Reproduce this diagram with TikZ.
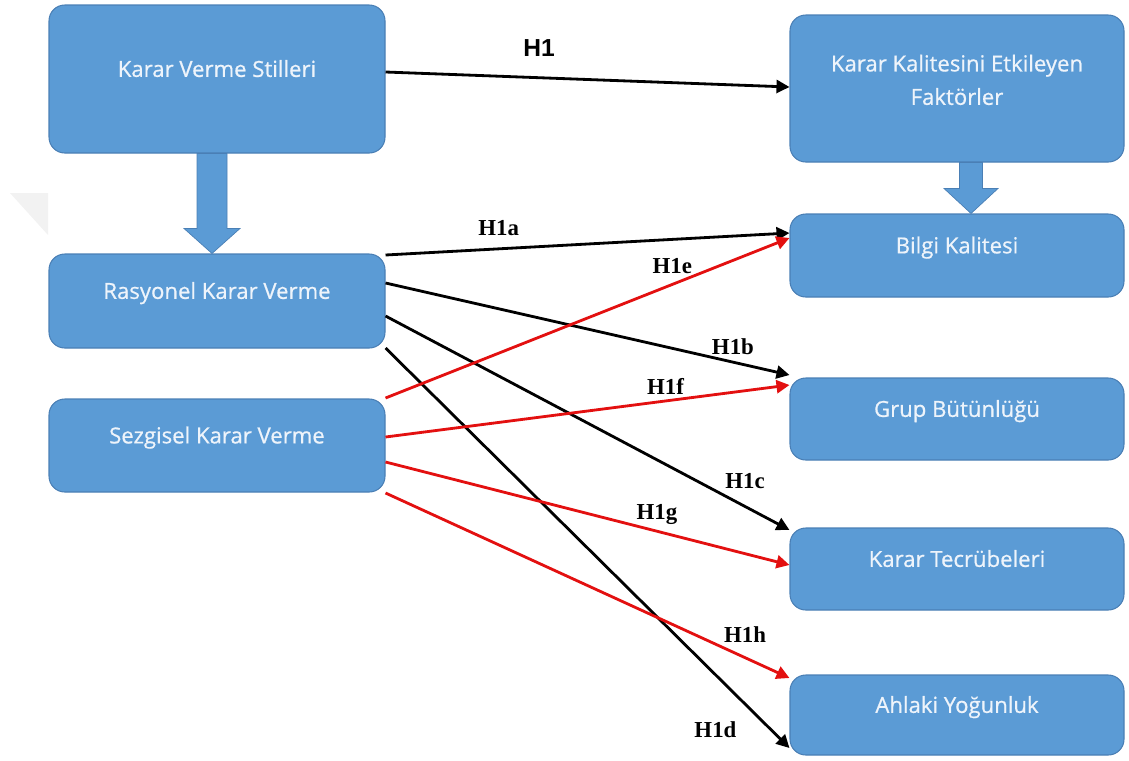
\documentclass[tikz,border=0pt]{standalone}
\usepackage{fontspec}
\setmainfont{Open Sans}
\newfontfamily\boxfont[FakeBold=0.7]{Open Sans}
\newfontfamily\hypfont{Liberation Serif}
\newfontfamily\hsansfont{Liberation Sans}
\usetikzlibrary{arrows.meta}
\definecolor{boxblue}{HTML}{5B9BD5}
\definecolor{boxline}{HTML}{4A7FB5}
\definecolor{boxtext}{HTML}{EEF4FB}
\definecolor{hypred}{HTML}{E31010}

\begin{document}
\begin{tikzpicture}[
    every node/.style={font=\fontsize{12}{15}\selectfont},
    box/.style={draw=boxline, line width=0.6pt, rounded corners=9pt, fill=boxblue,
                font=\boxfont\fontsize{12.6}{15}\selectfont,
                text=boxtext, minimum width=6.72cm, align=center, text depth=12pt},
    hyp/.style={font=\hypfont\bfseries\fontsize{13}{15}\selectfont, inner sep=2pt},
    arr/.style={-{Triangle[length=2.6mm,width=2.6mm]}, line width=1.6pt},
    redarr/.style={arr, draw=hypred},
    fat/.style={fill=boxblue, draw=boxline, line width=0.4pt}
]
\useasboundingbox (0,0) rectangle (22.58,-15.2);

% faint mark on the left
\fill[black!5] (0.2,-3.86) -- (0.96,-3.86) -- (0.96,-4.7) -- cycle;

% ── Left column ───────────────────────────────────────────────────────────
\node[box, minimum height=2.96cm] (kvs) at (4.34,-1.58) {Karar Verme Stilleri};
\node[box, minimum height=1.88cm] (rkv) at (4.34,-6.02) {Rasyonel Karar Verme};
\node[box, minimum height=1.86cm] (skv) at (4.34,-8.91) {Sezgisel Karar Verme};

% ── Right column ──────────────────────────────────────────────────────────
\node[box, minimum width=6.68cm, minimum height=2.94cm, text depth=10pt] (kkef) at (19.14,-1.77)
      {Karar Kalitesini Etkileyen\\[4pt]Faktörler};
\node[box, minimum width=6.68cm, minimum height=1.66cm] (bilgi) at (19.14,-5.11) {Bilgi Kalitesi};
\node[box, minimum width=6.68cm, minimum height=1.64cm] (grup) at (19.14,-8.38) {Grup Bütünlüğü};
\node[box, minimum width=6.68cm, minimum height=1.64cm] (tecrube) at (19.14,-11.38) {Karar Tecrübeleri};
\node[box, minimum width=6.68cm, minimum height=1.6cm] (ahlak) at (19.14,-14.3) {Ahlaki Yoğunluk};

% ── Block arrows ──────────────────────────────────────────────────────────
\fill[fat] ([xshift=-0.4cm]kvs.south) -- ([xshift=-0.4cm,yshift=0.5cm]rkv.north)
      -- ([xshift=-0.66cm,yshift=0.5cm]rkv.north) -- ([xshift=-0.1cm]rkv.north)
      -- ([xshift=0.46cm,yshift=0.5cm]rkv.north) -- ([xshift=0.2cm,yshift=0.5cm]rkv.north)
      -- ([xshift=0.2cm]kvs.south) -- cycle;
\fill[fat] ([xshift=0.05cm]kkef.south) -- ([xshift=0.05cm,yshift=0.5cm]bilgi.north)
      -- ([xshift=-0.26cm,yshift=0.5cm]bilgi.north) -- ([xshift=0.28cm]bilgi.north)
      -- ([xshift=0.82cm,yshift=0.5cm]bilgi.north) -- ([xshift=0.51cm,yshift=0.5cm]bilgi.north)
      -- ([xshift=0.51cm]kkef.south) -- cycle;

% ── H1 ────────────────────────────────────────────────────────────────────
\draw[arr] ([yshift=0.14cm]kvs.east) -- node[pos=.38, above, yshift=0.28cm,
      font=\hsansfont\bfseries\fontsize{14}{16}\selectfont]{H1} ([yshift=0.03cm]kkef.west);

% ── Rational decision making ──────────────────────────────────────────────
\draw[arr] ([yshift=0.92cm]rkv.east) -- node[hyp, pos=.28, above, yshift=0.17cm]{H1a} ([yshift=0.45cm]bilgi.west);
\draw[arr] ([yshift=0.36cm]rkv.east) -- node[hyp, pos=.86, above, yshift=0.05cm]{H1b} ([yshift=0.88cm]grup.west);
\draw[arr] ([yshift=-0.3cm]rkv.east) -- node[hyp, pos=.89, above, yshift=0.25cm]{H1c} ([yshift=0.78cm]tecrube.west);
\draw[arr] ([yshift=-0.94cm]rkv.east) -- node[hyp, pos=.955, left, xshift=-0.6cm]{H1d} ([yshift=-0.66cm]ahlak.west);

% ── Intuitive decision making ─────────────────────────────────────────────
\draw[redarr] ([yshift=0.95cm]skv.east) -- node[hyp, pos=.71, above, yshift=0.11cm]{H1e} ([yshift=0.35cm]bilgi.west);
\draw[redarr] ([yshift=0.17cm]skv.east) -- node[hyp, pos=.693, above, yshift=0.03cm]{H1f} ([yshift=0.68cm]grup.west);
\draw[redarr] ([yshift=-0.33cm]skv.east) -- node[hyp, pos=.672, above, yshift=0.03cm]{H1g} ([yshift=0.08cm]tecrube.west);
\draw[redarr] ([yshift=-0.95cm]skv.east) -- node[hyp, pos=.89, above, yshift=0.21cm]{H1h} ([yshift=0.74cm]ahlak.west);

\end{tikzpicture}
\end{document}
